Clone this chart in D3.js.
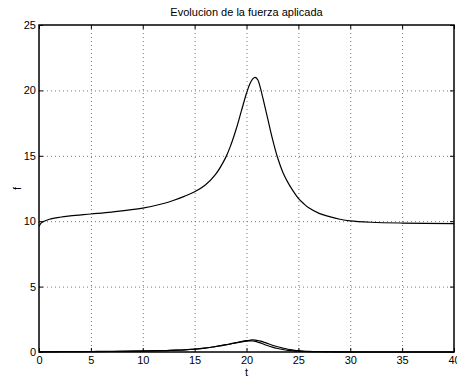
<!DOCTYPE html>
<html><head><meta charset="utf-8">
<script src="https://cdn.jsdelivr.net/npm/d3@7"></script>
<style>body{margin:0;background:#fff}svg{display:block}text{font-family:"Liberation Sans",Arial,sans-serif;}</style>
</head><body><svg id="c" width="457" height="379"></svg>
<script>
const title = "Evolucion de la fuerza aplicada";
const xLabel = "t", yLabel = "f";
const xTicks = [0,5,10,15,20,25,30,35,40];
const yTicks = [0,5,10,15,20,25];
const t =      [0,0.2,0.5,1,2,3,5,7,10,12,13,14,15,16,17,18,18.5,19,19.5,20,20.3,20.6,20.85,21.1,21.35,21.6,22,22.5,23,23.5,24,24.5,25,25.5,26,27,28,29,30,32,35,40];
const fMain =  [9.6,9.85,10.0,10.15,10.3,10.4,10.55,10.7,11.0,11.35,11.6,11.9,12.25,12.75,13.56,14.88,15.84,17.03,18.41,19.78,20.45,20.88,21.0,20.8,20.15,19.35,18.0,16.3,14.85,13.75,12.95,12.3,11.75,11.35,11.02,10.6,10.35,10.15,10.02,9.92,9.86,9.82];
const fA =     [0.02,0.02,0.02,0.02,0.03,0.03,0.04,0.05,0.08,0.11,0.14,0.17,0.22,0.3,0.42,0.56,0.64,0.72,0.8,0.87,0.9,0.92,0.91,0.88,0.83,0.77,0.66,0.52,0.4,0.3,0.21,0.15,0.1,0.07,0.05,0.03,0.02,0.01,0.01,0.0,0.0,0.0];
const fB =     [0.01,0.01,0.01,0.01,0.02,0.02,0.03,0.04,0.07,0.1,0.13,0.16,0.21,0.29,0.41,0.54,0.62,0.7,0.77,0.83,0.85,0.84,0.81,0.76,0.7,0.62,0.5,0.37,0.27,0.19,0.13,0.09,0.06,0.04,0.03,0.02,0.01,0.0,0.0,0.0,0.0,0.0];

const L=39, R=454, T=25, B=352;
const svg = d3.select("#c");
const x = d3.scaleLinear().domain([0,40]).range([L,R]);
const y = d3.scaleLinear().domain([0,25]).range([B,T]);

// grid
svg.append("g").selectAll("line").data(xTicks.slice(1,-1)).join("line")
  .attr("x1",d=>x(d)+0.5).attr("x2",d=>x(d)+0.5).attr("y1",T).attr("y2",B)
  .attr("stroke","#777").attr("stroke-width",1).attr("stroke-dasharray","1,3");
svg.append("g").selectAll("line").data(yTicks.slice(1,-1)).join("line")
  .attr("y1",d=>y(d)+0.5).attr("y2",d=>y(d)+0.5).attr("x1",L).attr("x2",R)
  .attr("stroke","#777").attr("stroke-width",1).attr("stroke-dasharray","1,3");

// curves
const line = d3.line().x((d,i)=>x(t[i])).y(d=>y(d)).curve(d3.curveCatmullRom.alpha(0.5));
[fMain,fA,fB].forEach(s=>{
  svg.append("path").attr("d",line(s)).attr("fill","none").attr("stroke","#000").attr("stroke-width",1.2);
});

// axes
const xa = d3.axisBottom(x).tickValues(xTicks).tickSize(-4).tickPadding(4).tickFormat(d3.format("d"));
const ya = d3.axisLeft(y).tickValues(yTicks).tickSize(-4).tickPadding(3).tickFormat(d3.format("d"));
const gx = svg.append("g").attr("transform",`translate(0,${B})`).call(xa);
const gy = svg.append("g").attr("transform",`translate(${L},0)`).call(ya);
const gx2 = svg.append("g").attr("transform",`translate(0,${T})`).call(d3.axisTop(x).tickValues(xTicks).tickSize(-4).tickFormat(""));
const gy2 = svg.append("g").attr("transform",`translate(${R},0)`).call(d3.axisRight(y).tickValues(yTicks).tickSize(-4).tickFormat(""));
[gx,gy,gx2,gy2].forEach(g=>{
  g.select(".domain").remove();
  g.selectAll("line").attr("stroke","#000");
  g.selectAll("text").attr("font-size",11).attr("fill","#000").style("font-family","'Liberation Sans',Arial,sans-serif");
});
svg.append("rect").attr("x",L).attr("y",T).attr("width",R-L).attr("height",B-T)
  .attr("fill","none").attr("stroke","#000").attr("stroke-width",1.5);

svg.append("text").attr("x",(L+R)/2).attr("y",16).attr("text-anchor","middle").attr("font-size",11).text(title);
svg.append("text").attr("x",(L+R)/2).attr("y",376).attr("text-anchor","middle").attr("font-size",11).text(xLabel);
svg.append("text").attr("transform",`translate(21,${(T+B)/2}) rotate(-90)`).attr("text-anchor","middle").attr("font-size",11).text(yLabel);
</script></body></html>
